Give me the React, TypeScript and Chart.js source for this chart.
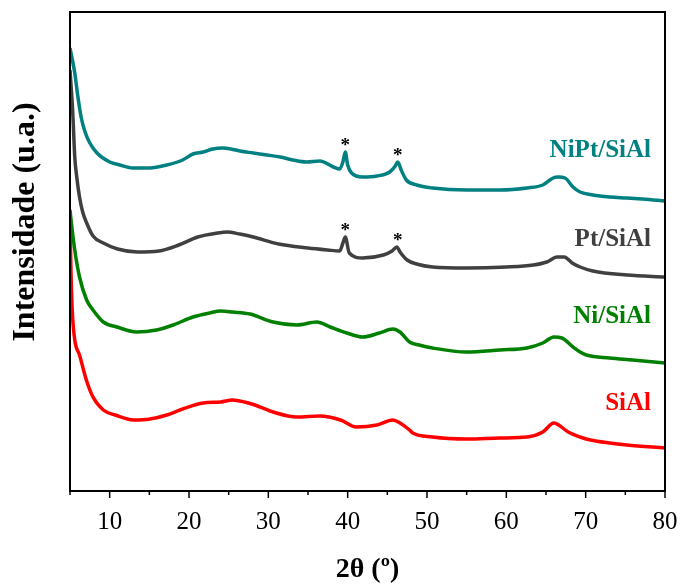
import React, { useEffect, useRef } from "react";
import { Chart, registerables } from "chart.js";

Chart.register(...registerables);

// 2θ positions and intensities (arbitrary units)
const niptX = [5.0, 5.6, 6.0, 6.4, 6.9, 7.5, 8.4, 10, 11.3, 12.9, 15.1, 17.2, 19.2, 20.5, 21.8, 23, 24.2, 25.3, 26.4, 28.1, 29.8, 31.5, 33.1, 34.8, 36.5, 38.2, 39.0, 39.4, 39.7, 40.0, 40.5, 41.9, 43.7, 45.3, 46.0, 46.3, 46.8, 47.4, 48.7, 50.7, 55, 59.2, 62.6, 64.6, 65.9, 66.5, 67.4, 68.4, 69.3, 70.9, 73, 75.2, 77.2, 80];
const niptY = [443, 418, 394, 374, 359, 348, 338, 329, 326, 323, 323, 326, 331, 337, 339, 342, 343, 342, 340, 338, 336, 334, 331, 329, 330, 324, 322, 329, 339, 326, 318, 314, 315, 319, 325, 329, 320, 311, 306, 303, 301, 301, 303, 306, 313, 314, 313, 304, 299, 296, 294, 293, 292, 290];

const ptX = [5.0, 5.35, 5.6, 5.85, 6.2, 6.6, 7.1, 7.9, 9.2, 11, 13.5, 16.2, 18.7, 21.1, 23.6, 24.8, 26.4, 28.1, 31.3, 35, 37.5, 39.0, 39.4, 39.7, 40.2, 41.9, 44.5, 45.6, 46.2, 46.6, 47.5, 48.7, 50.7, 55, 60, 63.4, 65.1, 66.4, 67.3, 68.3, 69.3, 70.9, 75.2, 80];
const ptY = [421, 378, 334, 314, 294, 279, 268, 255, 248, 242, 239, 240, 246, 254, 258, 259, 257, 254, 247, 243, 241, 240, 248, 254, 238, 233, 236, 240, 244, 239, 231, 227, 224, 223, 224, 226, 229, 234, 234, 228, 224, 220, 216, 214];

const niX = [5.0, 5.2, 5.6, 6.2, 7.1, 7.9, 9.2, 10.9, 13.4, 15.9, 18, 20.5, 22.6, 24, 25.5, 27.7, 30.6, 33.6, 36.1, 37.8, 39.9, 41.9, 44, 45.7, 46.6, 47.8, 49, 50.7, 55, 59.2, 62.6, 64.6, 66, 67, 68.4, 69.3, 70.1, 73, 75.9, 80];
const niY = [281, 266, 241, 214, 191, 181, 169, 164, 159, 161, 166, 174, 178, 180, 179, 177, 169, 166, 169, 164, 158, 154, 158, 162, 159, 149, 146, 143, 139, 141, 143, 148, 154, 153, 144, 139, 136, 133, 131, 128];

const sialX = [5.0, 5.15, 5.3, 5.6, 6.2, 7.1, 7.9, 9.2, 10.7, 13, 15.1, 17.2, 19.2, 21.8, 24, 25.5, 27, 28.3, 30.6, 33.6, 36.5, 39.1, 41.1, 43.7, 45.7, 46.6, 47.8, 48.2, 50.7, 55, 59.2, 62.6, 64.6, 66, 66.6, 67.8, 69.3, 70.6, 73, 75.2, 80];
const sialY = [266, 211, 178, 151, 136, 110, 94, 81, 76, 71, 72, 76, 82, 88, 89, 91, 89, 86, 79, 74, 75, 71, 64, 66, 71, 68, 61, 58, 54, 52, 53, 54, 59, 68, 66, 59, 54, 51, 48, 46, 43];

const seriesNames = ["NiPt/SiAl", "Pt/SiAl", "Ni/SiAl", "SiAl"];
const seriesColors = ["#008080", "#404040", "#008000", "#ff0000"];
const labelLevels = [334, 245, 168, 81];
// peaks marked with * (2θ) on NiPt/SiAl and Pt/SiAl
const starredPeaks = [39.7, 46.3];
const xTickLabels = [10, 20, 30, 40, 50, 60, 70, 80];

const SERIF = "'Liberation Serif', 'Times New Roman', serif";

export default function App() {
  const ref = useRef<HTMLCanvasElement | null>(null);

  useEffect(() => {
    document.body.style.margin = "0";
    const canvas = ref.current;
    if (!canvas) return;

    const xs = [niptX, ptX, niX, sialX];
    const ys = [niptY, ptY, niY, sialY];

    const annot = {
      id: "annot",
      afterDraw(chart: any) {
        const { ctx, chartArea, scales } = chart;
        const xS = scales.x;
        const yS = scales.y;
        ctx.save();
        // frame
        ctx.strokeStyle = "#000";
        ctx.lineWidth = 2;
        ctx.strokeRect(chartArea.left, chartArea.top, chartArea.right - chartArea.left, chartArea.bottom - chartArea.top);
        // x ticks (outside)
        ctx.lineWidth = 1.5;
        xS.ticks.forEach((t: any) => {
          const px = xS.getPixelForValue(t.value);
          const len = t.value % 10 === 0 ? 7 : 4;
          ctx.beginPath();
          ctx.moveTo(px, chartArea.bottom);
          ctx.lineTo(px, chartArea.bottom + len);
          ctx.stroke();
        });
        // series labels
        ctx.font = `bold 25px ${SERIF}`;
        ctx.textAlign = "right";
        ctx.textBaseline = "alphabetic";
        seriesNames.forEach((n, i) => {
          ctx.fillStyle = seriesColors[i];
          ctx.fillText(n, chartArea.right - 14, yS.getPixelForValue(labelLevels[i]));
        });
        // asterisks
        ctx.fillStyle = "#000";
        ctx.textAlign = "center";
        ctx.font = `bold 19px ${SERIF}`;
        [0, 1].forEach((si) => {
          starredPeaks.forEach((p) => {
            let best = 0;
            xs[si].forEach((xv, k) => {
              if (Math.abs(xv - p) < Math.abs(xs[si][best] - p)) best = k;
            });
            const px = xS.getPixelForValue(p);
            const py = yS.getPixelForValue(ys[si][best]);
            ctx.fillText("*", px, py - 1);
          });
        });
        // axis titles
        ctx.fillStyle = "#000";
        ctx.font = `bold 32px ${SERIF}`;
        ctx.textAlign = "center";
        ctx.save();
        ctx.translate(34, 222);
        ctx.rotate(-Math.PI / 2);
        ctx.fillText("Intensidade (u.a.)", 0, 0);
        ctx.restore();
        ctx.font = `bold 28px ${SERIF}`;
        ctx.fillText("2θ (º)", (chartArea.left + chartArea.right) / 2, 577);
        ctx.restore();
      },
    };

    const chart = new Chart(canvas, {
      type: "line",
      data: {
        datasets: seriesNames.map((n, i) => ({
          label: n,
          data: xs[i].map((x, k) => ({ x, y: ys[i][k] })),
          borderColor: seriesColors[i],
          backgroundColor: seriesColors[i],
          borderWidth: 3.5,
          pointRadius: 0,
          cubicInterpolationMode: "monotone" as const,
          fill: false,
        })),
      },
      options: {
        animation: false,
        responsive: false,
        maintainAspectRatio: false,
        layout: { padding: { top: 12, right: 0, left: 0, bottom: 0 } },
        plugins: { legend: { display: false }, tooltip: { enabled: false } },
        scales: {
          x: {
            type: "linear",
            min: 5,
            max: 80,
            grid: { display: false, drawTicks: false },
            border: { display: false },
            ticks: {
              stepSize: 5,
              padding: 16,
              color: "#000",
              font: { family: SERIF, size: 25 },
              maxRotation: 0,
              autoSkip: false,
              callback: (v: any) => (xTickLabels.includes(Number(v)) ? String(v) : ""),
            },
            afterFit: (s: any) => {
              s.height = 94;
              s.paddingRight = 15;
              s.paddingLeft = 0;
            },
          },
          y: {
            min: 0,
            max: 479,
            grid: { display: false, drawTicks: false },
            border: { display: false },
            ticks: { display: false },
            afterFit: (s: any) => {
              s.width = 70;
              s.paddingTop = 0;
              s.paddingBottom = 0;
            },
          },
        },
      },
      plugins: [annot],
    });
    return () => chart.destroy();
  }, []);

  return (
    <div style={{ width: 680, height: 585, position: "relative", background: "#fff" }}>
      <canvas ref={ref} width={680} height={585} style={{ display: "block" }} />
    </div>
  );
}
